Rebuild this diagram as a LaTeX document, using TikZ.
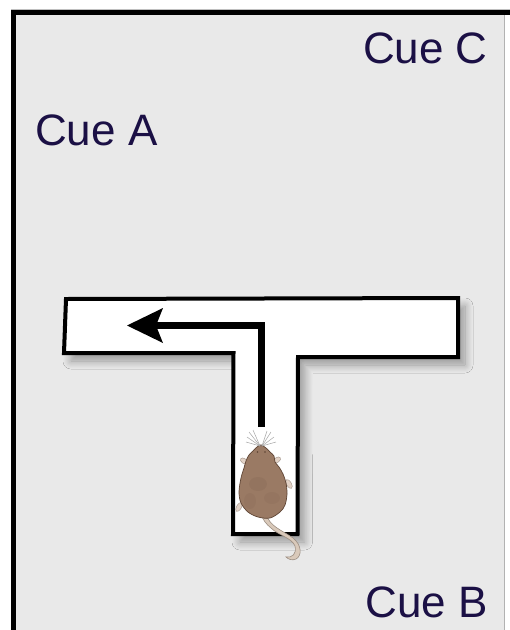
\documentclass[tikz,border=0pt]{standalone}
\usepackage{fontspec}
\setmainfont{Liberation Sans}
\usetikzlibrary{arrows.meta,shadows.blur,shapes.geometric}

\definecolor{arena}{HTML}{E9E9E9}
\definecolor{cueink}{HTML}{1B1045}
\definecolor{fur}{HTML}{9A7A64}
\definecolor{furdark}{HTML}{5E4434}
\definecolor{pawpink}{HTML}{E2D2C6}
\definecolor{tailbeige}{HTML}{D9C9BA}
\definecolor{tailedge}{HTML}{9C8E82}

\tikzset{
  cuelabel/.style={inner sep=0pt, text=cueink, font=\fontsize{44}{44}\selectfont},
  mazewall/.style={draw=black, line width=4pt, line join=miter, fill=white,
    blur shadow={shadow xshift=7pt, shadow yshift=-8pt, shadow blur radius=8pt,
      shadow blur steps=12, shadow opacity=35}},
  route/.style={draw=black, line width=7.5pt, line join=miter,
    -{Stealth[length=36pt, width=35pt, inset=7pt, line width=0pt, color=black, fill=black]}},
  whisker/.style={draw=gray!70, line width=0.5pt},
  paw/.style={ellipse, inner sep=0pt, fill=pawpink, draw=furdark!60, line width=0.4pt},
}

\begin{document}
\begin{tikzpicture}[x=1pt, y=-1pt]
  \useasboundingbox (0,0) rectangle (510,630);

  % arena floor and its frame
  \fill[arena] (13.5,12.5) rectangle (504,630);
  \draw[gray!60, line width=1pt] (504,12.5) -- (504,630);
  \draw[black, line width=5pt] (13.5,630) -- (13.5,12.5) -- (510,12.5);
  \draw[gray!50, line width=0.8pt] (11,9.5) -- (510,9.5);

  % T-maze
  \path[mazewall] (66,299) -- (458,298) -- (458,357) -- (298,357)
    -- (297.5,534) -- (233,534) -- (233.5,353) -- (64,353) -- cycle;

  % turn taken at the junction
  \coordinate (start) at (261.5,427);
  \coordinate (bend) at (261.5,325.5);
  \coordinate (goal) at (127,325.5);
  \draw[route] (start) -- (bend) -- (goal);

  % rat seen from above: tail first, then paws, then the body over them
  \draw[tailedge, line width=0.6pt, fill=tailbeige]
    (266,514) .. controls (270,527) and (282,530) .. (293,538)
    .. controls (302,545) and (302,556) .. (296,559)
    .. controls (292,561) and (288,559) .. (286,557)
    .. controls (292,558) and (297,554) .. (295,546)
    .. controls (292,538) and (278,535) .. (271,528)
    .. controls (266,524) and (263,520) .. (261,514) -- cycle;

  \node[paw, minimum width=8pt, minimum height=5pt, rotate=-35] (pawfl) at (244,461) {};
  \node[paw, minimum width=8pt, minimum height=5pt, rotate=35] (pawfr) at (277,460) {};
  \node[paw, minimum width=10pt, minimum height=5pt, rotate=60] (pawhl) at (239,507) {};
  \node[paw, minimum width=10pt, minimum height=5pt, rotate=-60] (pawhr) at (289,484) {};

  \draw[furdark, line width=0.7pt, fill=fur]
    plot[smooth cycle, tension=0.55] coordinates {
      (261,445) (266,448) (270,452) (274,456) (275,462) (279,467)
      (283,474) (286,483) (287,494) (285,505) (280,512) (270,518)
      (258,517) (248,512) (241,503) (239,492) (241,478) (244,468)
      (246,461) (249,455) (253,451) (257,447)};
  % fur shading
  \fill[furdark, opacity=0.10] (258,484) ellipse (9pt and 7pt);
  \fill[furdark, opacity=0.08] (272,498) ellipse (8pt and 6pt);
  \fill[furdark, opacity=0.08] (250,501) ellipse (6pt and 8pt);
  \fill[furdark] (257.5,452) circle (0.9pt);
  \fill[furdark] (265,452) circle (0.9pt);
  \fill[furdark!80] (261,445.5) circle (1.1pt);

  \draw[whisker] (260,446) -- (247,437);
  \draw[whisker] (260,446) -- (249,432);
  \draw[whisker] (260,446) -- (253,430);
  \draw[whisker] (260,446) -- (246,442);
  \draw[whisker] (262,446) -- (267,431);
  \draw[whisker] (262,446) -- (271,432);
  \draw[whisker] (262,446) -- (274,437);
  \draw[whisker] (262,446) -- (276,442);

  % visual cues around the arena
  \node[cuelabel, anchor=base west] (cueA) at (35,145) {Cue A};
  \node[cuelabel, anchor=base east] (cueC) at (488,63) {Cue C};
  \node[cuelabel, anchor=base east] (cueB) at (488,617) {Cue B};
\end{tikzpicture}
\end{document}
